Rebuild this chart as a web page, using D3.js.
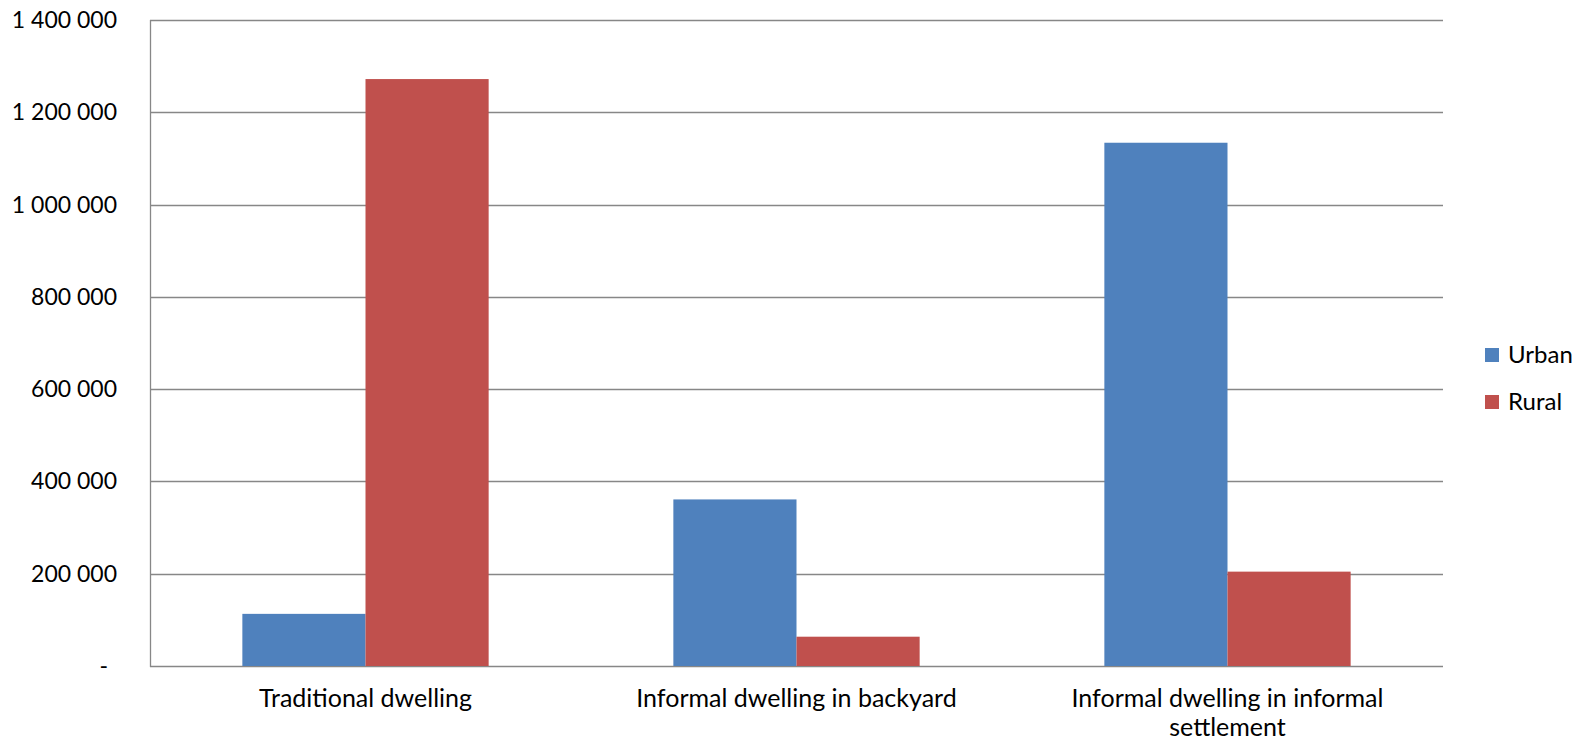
<!DOCTYPE html>
<html>
<head>
<meta charset="utf-8">
<script src="https://cdn.jsdelivr.net/npm/d3@7"></script>
<style>
  html, body { margin: 0; padding: 0; background: #fff; }
  svg text { font-family: Lato, "Open Sans", sans-serif; fill: #000; }
</style>
</head>
<body>
<svg id="chart" width="1591" height="744"></svg>
<script>
// Dwelling counts by type, urban vs rural
const categories = [
  ["Traditional dwelling"],
  ["Informal dwelling in backyard"],
  ["Informal dwelling in informal", "settlement"]
];
const seriesNames = ["Urban", "Rural"];
const urbanValues = [113000, 361000, 1134000];
const ruralValues = [1272000, 63500, 204500];
const yTicks = [0, 200000, 400000, 600000, 800000, 1000000, 1200000, 1400000];
const colors = ["#4F81BD", "#C0504D"];

const svg = d3.select("#chart");
const plot = { left: 150, right: 1443, top: 20, bottom: 666 };

const x0 = d3.scaleBand()
  .domain(d3.range(categories.length))
  .range([plot.left, plot.right])
  .padding(0);

// bars touch each other; a 150% gap separates the groups
const x1 = d3.scaleBand()
  .domain(d3.range(seriesNames.length))
  .range([0, x0.bandwidth()])
  .paddingInner(0)
  .paddingOuter(0.75);

const y = d3.scaleLinear().domain([0, 1400000]).range([plot.bottom, plot.top]);

const fmt = v => v === 0 ? "-" : d3.format(",")(v).replace(/,/g, " ");

// gridlines
svg.append("g")
  .selectAll("line")
  .data(yTicks)
  .join("line")
  .attr("x1", plot.left)
  .attr("x2", plot.right)
  .attr("y1", d => Math.round(y(d)) + 0.5)
  .attr("y2", d => Math.round(y(d)) + 0.5)
  .attr("stroke", "#878787")
  .attr("stroke-width", 1.3);

// value axis line
svg.append("line")
  .attr("x1", plot.left + 0.5).attr("x2", plot.left + 0.5)
  .attr("y1", plot.top).attr("y2", plot.bottom + 1)
  .attr("stroke", "#878787").attr("stroke-width", 1.3);

// value tick labels
svg.append("g")
  .selectAll("text")
  .data(yTicks)
  .join("text")
  .attr("x", d => d === 0 ? 108 : 117)
  .attr("y", d => y(d) + 8)
  .attr("text-anchor", "end")
  .attr("font-size", 23)
  .text(fmt);

// bars
const series = [urbanValues, ruralValues];
const groups = svg.append("g")
  .selectAll("g")
  .data(categories.map((c, i) => i))
  .join("g")
  .attr("transform", i => `translate(${x0(i)},0)`);

groups.selectAll("rect")
  .data(i => series.map((s, k) => ({ k, v: s[i] })))
  .join("rect")
  .attr("x", d => x1(d.k))
  .attr("width", x1.bandwidth())
  .attr("y", d => y(d.v))
  .attr("height", d => y(0) - y(d.v))
  .attr("fill", d => colors[d.k]);

// category labels
const xl = svg.append("g")
  .selectAll("text")
  .data(categories)
  .join("text")
  .attr("x", (c, i) => x0(i) + x0.bandwidth() / 2)
  .attr("y", 707)
  .attr("text-anchor", "middle")
  .attr("font-size", 25);
xl.selectAll("tspan")
  .data(c => c)
  .join("tspan")
  .attr("x", function () { return this.parentNode.getAttribute("x"); })
  .attr("dy", (d, j) => j === 0 ? 0 : 29)
  .text(d => d);

// legend
const leg = svg.append("g")
  .selectAll("g")
  .data(seriesNames)
  .join("g")
  .attr("transform", (d, i) => `translate(1485,${348 + i * 47})`);
leg.append("rect")
  .attr("width", 14).attr("height", 14)
  .attr("fill", (d, i) => colors[i]);
leg.append("text")
  .attr("x", 23).attr("y", 15)
  .attr("font-size", 24)
  .text(d => d);
</script>
</body>
</html>
